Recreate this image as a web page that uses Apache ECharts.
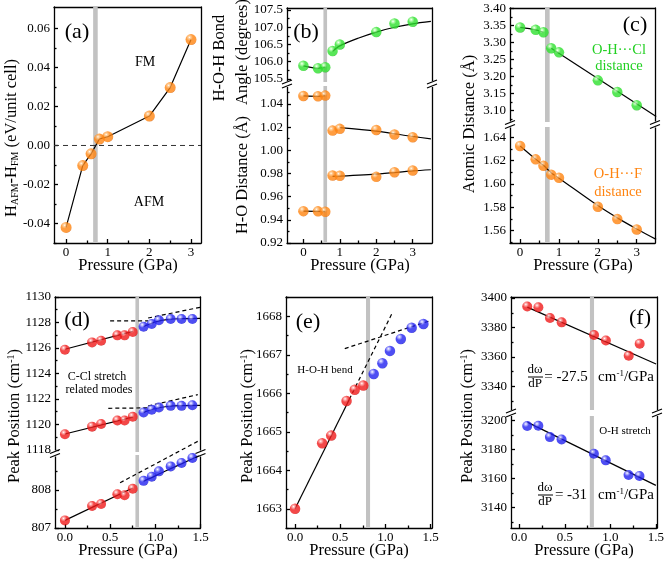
<!DOCTYPE html>
<html>
<head>
<meta charset="utf-8">
<script src="https://cdn.jsdelivr.net/npm/echarts@6/dist/echarts.min.js"></script>
<style>
  html, body { margin: 0; background: #fff; }
  #main { width: 667px; height: 564px; }
</style>
</head>
<body>
<div id="main"></div>
<script>
var FONT = 'Liberation Serif';

// ---- (a) energy difference
var aP = [0, 0.4, 0.6, 0.8, 1.0, 2.0, 2.5, 3.0];
var aE = [-0.042, -0.0103, -0.0043, 0.0033, 0.0045, 0.0151, 0.0297, 0.0543];
var aBand = [0.65, 0.76];

// ---- (b) angle and H-O distances
var bP = [0, 0.4, 0.6, 0.8, 1.0, 2.0, 2.5, 3.0];
var bAngle = [105.88, 105.81, 105.84, 106.31, 106.50, 106.86, 107.11, 107.16];
var bLong = [1.0469, 1.0466, 1.0472, 1.017, 1.0185, 1.0176, 1.0136, 1.0113];
var bShort = [0.9475, 0.9473, 0.947, 0.9783, 0.978, 0.9771, 0.9811, 0.9826];
var bAngleFitP = [0.8, 1.0, 1.5, 2.0, 2.5, 3.0, 3.5];
var bAngleFit = [106.30, 106.46, 106.68, 106.86, 107.0, 107.1, 107.17];
var bLongFitP = [1.0, 2.0, 3.0, 3.5];
var bLongFit = [1.0195, 1.0165, 1.012, 1.0099];
var bShortFitP = [0.8, 2.0, 3.0, 3.5];
var bShortFit = [0.9775, 0.9795, 0.9822, 0.9832];
var bBand = [0.55, 0.65];

// ---- (c) atomic distances
var cP = [0, 0.4, 0.6, 0.8, 1.0, 2.0, 2.5, 3.0];
var cCl = [3.344, 3.337, 3.330, 3.283, 3.271, 3.189, 3.155, 3.116];
var cF = [1.6326, 1.6211, 1.6157, 1.608, 1.6054, 1.5806, 1.570, 1.5611];
var cClFitP = [0.8, 3.5];
var cClFit = [3.283, 3.083];
var cFFitP = [0, 0.4, 0.6, 0.8, 1.0, 2.0, 2.5, 3.0, 3.5];
var cFFit = [1.6326, 1.6213, 1.616, 1.6095, 1.605, 1.5815, 1.571, 1.5615, 1.5526];
var cBand = [0.64, 0.76];

// ---- (d) C-Cl stretch modes
var dRedP = [0, 0.3, 0.4, 0.58, 0.66, 0.75];
var dBlueP = [0.87, 0.96, 1.04, 1.17, 1.29, 1.41];
var d1Red = [1125.86, 1126.44, 1126.57, 1126.99, 1126.99, 1127.25];
var d1Blue = [1127.67, 1127.88, 1128.17, 1128.27, 1128.27, 1128.27];
var d2Red = [1119.23, 1119.83, 1120.04, 1120.31, 1120.31, 1120.6];
var d2Blue = [1120.94, 1121.15, 1121.33, 1121.46, 1121.46, 1121.51];
var d3Red = [807.2, 807.58, 807.63, 807.89, 807.86, 808.03];
var d3Blue = [808.24, 808.35, 808.49, 808.62, 808.71, 808.84];
var dRedFitP = [0, 0.75];
var d1RedFit = [1125.9, 1127.3];
var d2RedFit = [1119.25, 1120.58];
var d3RedFit = [807.2, 808.05];
var dBlueFitP = [0.87, 1.0, 1.15, 1.3, 1.5];
var d1BlueFit = [1127.68, 1128.05, 1128.25, 1128.3, 1128.33];
var d2BlueFit = [1120.95, 1121.25, 1121.43, 1121.48, 1121.5];
var d3BlueFit = [808.23, 808.37, 808.54, 808.7, 808.92];
var d1DashAP = [0.5, 0.92], d1DashA = [1128.13, 1128.13];
var d1DashBP = [0.92, 1.5], d1DashB = [1128.35, 1129.2];
var d2DashAP = [0.48, 0.92], d2DashA = [1121.27, 1121.3];
var d2DashBP = [0.92, 1.47], d2DashB = [1121.45, 1122.34];
var d3DashP = [0.61, 1.47], d3Dash = [808.19, 809.28];
var dBand = [0.78, 0.82];

// ---- (e) H-O-H bend
var eRedP = [0, 0.3, 0.4, 0.57, 0.66, 0.755];
var eRed = [1663.0, 1664.7, 1664.9, 1665.8, 1666.09, 1666.2];
var eBlueP = [0.87, 0.966, 1.05, 1.17, 1.29, 1.42];
var eBlue = [1666.5, 1666.78, 1667.1, 1667.41, 1667.7, 1667.8];
var eSolidP = [0, 0.6], eSolid = [1663.0, 1665.84];
var eDash1P = [0.6, 1.07], eDash1 = [1665.84, 1668.06];
var eDash2P = [0.55, 1.5], eDash2 = [1667.16, 1667.89];
var eBand = [0.785, 0.83];

// ---- (f) O-H stretch
var fP = [0.088, 0.21, 0.337, 0.465, 0.82, 0.95, 1.2, 1.32];
var fRed = [3394.3, 3393.7, 3386.4, 3383.5, 3374.9, 3371.2, 3360.8, 3369.0];
var fBlue = [3196.1, 3196.3, 3188.5, 3186.9, 3177.1, 3172.5, 3162.4, 3161.8];
var fFitP = [0.088, 1.5];
var fRedFit = [3393.8, 3355.2];
var fBlueFit = [3198.8, 3155.3];
var fBand = [0.775, 0.82];

// ---- tick values
var xTicks3 = [0, 1, 2, 3], xMinor3 = [0.5, 1.5, 2.5];
var xTicks15 = [0, 0.5, 1.0, 1.5], xMinor15 = [0.25, 0.75, 1.25];
var aYT = [-0.04, -0.02, 0, 0.02, 0.04, 0.06], aYM = [-0.05, -0.03, -0.01, 0.01, 0.03, 0.05];
var bUpYT = [105.5, 106.0, 106.5, 107.0, 107.5], bUpYM = [105.75, 106.25, 106.75, 107.25];
var bLoYT = [0.92, 0.94, 0.96, 0.98, 1.00, 1.02, 1.04], bLoYM = [0.93, 0.95, 0.97, 0.99, 1.01, 1.03, 1.05];
var cUpYT = [3.10, 3.15, 3.20, 3.25, 3.30, 3.35, 3.40], cUpYM = [3.075, 3.125, 3.175, 3.225, 3.275, 3.325, 3.375];
var cLoYT = [1.56, 1.58, 1.60, 1.62, 1.64], cLoYM = [1.55, 1.57, 1.59, 1.61, 1.63];
var dUpYT = [1118, 1120, 1122, 1124, 1126, 1128, 1130], dUpYM = [1119, 1121, 1123, 1125, 1127, 1129];
var dLoYT = [807, 808], dLoYM = [807.5, 808.5];
var eYT = [1663, 1664, 1665, 1666, 1667, 1668], eYM = [1662.5, 1663.5, 1664.5, 1665.5, 1666.5, 1667.5, 1668.5];
var fUpYT = [3340, 3360, 3380, 3400], fUpYM = [3330, 3350, 3370, 3390];
var fLoYT = [3140, 3160, 3180, 3200], fLoYM = [3130, 3150, 3170, 3190];

var ORANGE = ['#ff8410', '#c04c00', '#ffc88a'];
var GREEN = ['#2ee02e', '#109010', '#b0ffa8'];
var RED = ['#f01a1a', '#980000', '#ffaaaa'];
var BLUE = ['#2222f0', '#08088f', '#b4b4ff'];

function zip(xs, ys) { return xs.map(function (x, i) { return [x, ys[i]]; }); }
function ball(c) {
  return { type: 'radial', x: 0.36, y: 0.3, r: 0.78, colorStops: [
    { offset: 0, color: '#ffffff' }, { offset: 0.12, color: c[2] },
    { offset: 0.4, color: c[0] }, { offset: 0.85, color: c[0] }, { offset: 1, color: c[1] }] };
}

var grids = [], xAxes = [], yAxes = [], series = [], breaks = [], xTitles = [];
var axLine = { color: '#000', width: 1.3 };
var tickFont = { color: '#000', fontFamily: FONT, fontSize: 13 };

function panel(box, xr, yr, o) {
  var gi = grids.length;
  grids.push({ left: box[0], top: box[1], width: box[2] - box[0], height: box[3] - box[1] });
  if (o.bottom) xTitles.push([Math.round((box[0] + box[2]) / 2), box[3] + 23]);
  var xi = xAxes.length, yi = yAxes.length;
  var common = { type: 'value', gridIndex: gi, splitLine: { show: false } };
  xAxes.push(Object.assign({}, common, {
    position: 'bottom', min: xr[0], max: xr[1],
    axisLine: { show: o.bottom, onZero: false, lineStyle: axLine },
    axisTick: { show: o.bottom, inside: true, length: 4, customValues: o.xT, lineStyle: axLine },
    axisLabel: Object.assign({ show: o.bottom, customValues: o.xT, margin: 3, formatter: o.xF }, tickFont)
  }));
  xAxes.push(Object.assign({}, common, {
    position: 'bottom', min: xr[0], max: xr[1],
    axisLine: { show: false, onZero: false },
    axisTick: { show: o.bottom, inside: true, length: 2.5, customValues: o.xM, lineStyle: axLine },
    axisLabel: { show: false }
  }));
  xAxes.push(Object.assign({}, common, {
    position: 'top', min: xr[0], max: xr[1],
    axisLine: { show: o.top, onZero: false, lineStyle: axLine },
    axisTick: { show: false }, axisLabel: { show: false }
  }));
  yAxes.push(Object.assign({}, common, {
    position: 'left', min: yr[0], max: yr[1],
    axisLine: { show: true, onZero: false, lineStyle: axLine },
    axisTick: { inside: true, length: 4, customValues: o.yT, lineStyle: axLine },
    axisLabel: Object.assign({ customValues: o.yT, margin: 4, formatter: o.yF }, tickFont)
  }));
  yAxes.push(Object.assign({}, common, {
    position: 'left', min: yr[0], max: yr[1],
    axisLine: { show: false, onZero: false },
    axisTick: { inside: true, length: 2.5, customValues: o.yM, lineStyle: axLine },
    axisLabel: { show: false }
  }));
  yAxes.push(Object.assign({}, common, {
    position: 'right', min: yr[0], max: yr[1],
    axisLine: { show: true, onZero: false, lineStyle: axLine },
    axisTick: { show: false }, axisLabel: { show: false }
  }));
  return { x: xi, y: yi };
}

function sc(ax, xs, ys, col, size) {
  series.push({ type: 'scatter', xAxisIndex: ax.x, yAxisIndex: ax.y, data: zip(xs, ys),
    symbolSize: size, itemStyle: { color: ball(col) }, z: 5, silent: true });
}
function ln(ax, xs, ys, dashed, noClip) {
  series.push({ type: 'line', xAxisIndex: ax.x, yAxisIndex: ax.y, data: zip(xs, ys),
    symbol: 'none', smooth: xs.length > 2 ? 0.3 : false, clip: !noClip, silent: true, z: 3,
    lineStyle: { color: '#000', width: 1.2, type: dashed ? [4, 3] : 'solid' } });
}
function band(ax, r) {
  series.push({ type: 'line', xAxisIndex: ax.x, yAxisIndex: ax.y, data: [], symbol: 'none', z: 1, silent: true,
    markArea: { silent: true, itemStyle: { color: '#c2c2c2' }, data: [[{ xAxis: r[0] }, { xAxis: r[1] }]] } });
}

var f0 = function (v) { return v.toFixed(0); };
var f1 = function (v) { return v.toFixed(1); };
var f2 = function (v) { return v.toFixed(2); };

// (a)
var A = panel([54, 7, 201, 243], [-0.29, 3.24], [-0.05, 0.071],
  { bottom: true, top: true, xT: xTicks3, xM: xMinor3, xF: f0, yT: aYT, yM: aYM, yF: f2 });
band(A, aBand);
series.push({ type: 'line', xAxisIndex: A.x, yAxisIndex: A.y, data: [[-0.29, 0], [3.24, 0]], symbol: 'none', silent: true, z: 2,
  lineStyle: { color: '#333', width: 1, type: [5, 4] } });
ln(A, aP, aE, false);
series[series.length - 1].smooth = false;
sc(A, aP, aE, ORANGE, 11);

// (b)
var Bu = panel([287, 8, 432, 82], [-0.45, 3.53], [105.41, 107.56],
  { bottom: false, top: true, xT: xTicks3, xM: xMinor3, xF: f0, yT: bUpYT, yM: bUpYM, yF: f1 });
var Bl = panel([287, 86, 432, 243], [-0.45, 3.53], [0.92, 1.0555],
  { bottom: true, top: false, xT: xTicks3, xM: xMinor3, xF: f0, yT: bLoYT, yM: bLoYM, yF: f2 });
breaks.push([287, 432, 84]);
band(Bu, bBand); band(Bl, bBand);
ln(Bu, bP.slice(0, 3), bAngle.slice(0, 3)); ln(Bu, bAngleFitP, bAngleFit);
ln(Bl, bP.slice(0, 3), bLong.slice(0, 3)); ln(Bl, bLongFitP, bLongFit);
ln(Bl, bP.slice(0, 3), bShort.slice(0, 3)); ln(Bl, bShortFitP, bShortFit);
sc(Bu, bP, bAngle, GREEN, 10.5);
sc(Bl, bP, bLong, ORANGE, 10.5);
sc(Bl, bP, bShort, ORANGE, 10.5);

// (c)
var Cu = panel([510, 8, 655, 122], [-0.26, 3.47], [3.067, 3.401],
  { bottom: false, top: true, xT: xTicks3, xM: xMinor3, xF: f0, yT: cUpYT, yM: cUpYM, yF: f2 });
var Cl = panel([510, 127, 655, 243], [-0.26, 3.47], [1.5495, 1.6488],
  { bottom: true, top: false, xT: xTicks3, xM: xMinor3, xF: f0, yT: cLoYT, yM: cLoYM, yF: f2 });
breaks.push([510, 655, 124.5]);
band(Cu, cBand); band(Cl, cBand);
ln(Cu, cP.slice(0, 3), cCl.slice(0, 3)); ln(Cu, cClFitP, cClFit);
ln(Cl, cFFitP, cFFit);
sc(Cu, cP, cCl, GREEN, 10.5);
sc(Cl, cP, cF, ORANGE, 10.5);

// (d)
var Du = panel([55, 297, 200.5, 452], [-0.11, 1.5], [1117.84, 1130],
  { bottom: false, top: true, xT: xTicks15, xM: xMinor15, xF: f1, yT: dUpYT, yM: dUpYM, yF: f0 });
var Dl = panel([55, 455, 200.5, 528], [-0.11, 1.5], [807, 808.92],
  { bottom: true, top: false, xT: xTicks15, xM: xMinor15, xF: f1, yT: dLoYT, yM: dLoYM, yF: f0 });
breaks.push([55, 200.5, 453.5]);
band(Du, dBand); band(Dl, dBand);
ln(Du, dRedFitP, d1RedFit); ln(Du, dBlueFitP, d1BlueFit);
ln(Du, dRedFitP, d2RedFit); ln(Du, dBlueFitP, d2BlueFit);
ln(Dl, dRedFitP, d3RedFit); ln(Dl, dBlueFitP, d3BlueFit);
ln(Du, d1DashAP, d1DashA, true); ln(Du, d1DashBP, d1DashB, true);
ln(Du, d2DashAP, d2DashA, true); ln(Du, d2DashBP, d2DashB, true);
ln(Dl, d3DashP, d3Dash, true, true);
sc(Du, dRedP, d1Red, RED, 10); sc(Du, dBlueP, d1Blue, BLUE, 10);
sc(Du, dRedP, d2Red, RED, 10); sc(Du, dBlueP, d2Blue, BLUE, 10);
sc(Dl, dRedP, d3Red, RED, 10); sc(Dl, dBlueP, d3Blue, BLUE, 10);

// (e)
var E = panel([286, 297, 432, 528], [-0.1, 1.515], [1662.5, 1668.5],
  { bottom: true, top: true, xT: xTicks15, xM: xMinor15, xF: f1, yT: eYT, yM: eYM, yF: f0 });
band(E, eBand);
ln(E, eSolidP, eSolid); ln(E, eDash1P, eDash1, true); ln(E, eDash2P, eDash2, true);
sc(E, eRedP, eRed, RED, 10.5); sc(E, eBlueP, eBlue, BLUE, 10.5);

// (f)
var Fu = panel([511, 297, 657, 410], [-0.09, 1.51], [3324, 3400.7],
  { bottom: false, top: true, xT: xTicks15, xM: xMinor15, xF: f1, yT: fUpYT, yM: fUpYM, yF: f0 });
var Fl = panel([511, 416, 657, 528], [-0.09, 1.51], [3126, 3203],
  { bottom: true, top: false, xT: xTicks15, xM: xMinor15, xF: f1, yT: fLoYT, yM: fLoYM, yF: f0 });
breaks.push([511, 657, 413]);
band(Fu, fBand); band(Fl, fBand);
ln(Fu, fFitP, fRedFit); ln(Fl, fFitP, fBlueFit);
sc(Fu, fP, fRed, RED, 10); sc(Fl, fP, fBlue, BLUE, 10);

// ---- text and decorations
var graphics = [];
function txt(x, y, s, size, color) {
  graphics.push({ type: 'text', x: x, y: y, z: 50, silent: true,
    style: { text: s, fill: color || '#000', fontFamily: FONT, fontSize: size, fontWeight: 'normal',
      textAlign: 'center', textVerticalAlign: 'middle' } });
}
function vtxt(x, y, s, size, rich) {
  graphics.push({ type: 'text', x: x, y: y, rotation: Math.PI / 2, z: 50, silent: true,
    style: { text: s, fill: '#000', fontFamily: FONT, fontSize: size, fontWeight: 'normal',
      textAlign: 'center', textVerticalAlign: 'middle', rich: rich } });
}
var subRich = {
  n: { fontSize: 16.5, fontFamily: FONT, fill: '#000' },
  s: { fontSize: 10, fontFamily: FONT, fill: '#000', verticalAlign: 'bottom', padding: [6, 0, 0, 0] },
  p: { fontSize: 10, fontFamily: FONT, fill: '#000', verticalAlign: 'top', padding: [0, 0, 6, 0] }
};

xTitles.forEach(function (t) { txt(t[0], t[1], 'Pressure (GPa)', 16.5); });

txt(77, 32, '(a)', 22); txt(145, 62, 'FM', 14); txt(149, 202, 'AFM', 14);
txt(306, 32, '(b)', 22);
txt(635, 25, '(c)', 22);
txt(619, 50, 'O-H\u00b7\u00b7\u00b7Cl', 14.5, '#22d022'); txt(619, 66, 'distance', 14.5, '#22d022');
txt(618, 174, 'O-H\u00b7\u00b7\u00b7F', 14.5, '#ff8410'); txt(618, 192, 'distance', 14.5, '#ff8410');
txt(77, 320, '(d)', 22); txt(97, 377, 'C-Cl stretch', 12); txt(99, 390, 'related modes', 12);
txt(308, 322, '(e)', 22); txt(325, 370, 'H-O-H bend', 11);
txt(640, 318, '(f)', 22); txt(625, 431, 'O-H stretch', 11);

txt(535, 370, 'd\u03c9', 13); txt(535, 383.5, 'dP', 13);
graphics.push({ type: 'line', z: 50, silent: true, shape: { x1: 528, y1: 377, x2: 543, y2: 377 }, style: { stroke: '#000', lineWidth: 1 } });
txt(566, 377, '= -27.5', 15);
txt(626, 377, '{n|cm}{p|-1}{n|/GPa}', 15);
txt(545, 488, 'd\u03c9', 13); txt(545, 502, 'dP', 13);
graphics.push({ type: 'line', z: 50, silent: true, shape: { x1: 538, y1: 495, x2: 553, y2: 495 }, style: { stroke: '#000', lineWidth: 1 } });
txt(571, 495, '= -31', 15);
txt(626, 495, '{n|cm}{p|-1}{n|/GPa}', 15);

var unitRich = {
  n: { fontSize: 15, fontFamily: FONT, fill: '#000' },
  p: { fontSize: 9, fontFamily: FONT, fill: '#000', verticalAlign: 'top', padding: [0, 0, 5, 0] }
};
graphics.forEach(function (g) { if (g.style && /\{n\|/.test(g.style.text)) g.style.rich = unitRich; });

vtxt(12, 138, '{n|H}{s|AFM}{n|-H}{s|FM}{n| (eV/unit cell)}', 16.5, subRich);
vtxt(220, 58, 'H-O-H Bond', 16.5);
vtxt(243, 52, 'Angle (degrees)', 16.5);
vtxt(243, 175, 'H-O Distance (\u00c5)', 16.5);
vtxt(470, 124, 'Atomic Distance (\u00c5)', 16.5);
vtxt(15, 416, '{n|Peak Position (cm}{p|-1}{n|)}', 16.5, subRich);
vtxt(248, 416, '{n|Peak Position (cm}{p|-1}{n|)}', 16.5, subRich);
vtxt(468, 416, '{n|Peak Position (cm}{p|-1}{n|)}', 16.5, subRich);

// axis break marks
breaks.forEach(function (b) {
  [b[0], b[1]].forEach(function (x) {
    graphics.push({ type: 'rect', z: 48, silent: true, shape: { x: x - 2, y: b[2] - 3, width: 4, height: 6 }, style: { fill: '#fff' } });
    [-2, 2].forEach(function (d) {
      graphics.push({ type: 'line', z: 49, silent: true,
        shape: { x1: x - 5, y1: b[2] + d + 2, x2: x + 5, y2: b[2] + d - 2 }, style: { stroke: '#000', lineWidth: 1.2 } });
    });
  });
});

var chart = echarts.init(document.getElementById('main'), null, { renderer: 'canvas' });
chart.setOption({
  animation: false,
  backgroundColor: '#fff',
  grid: grids,
  xAxis: xAxes,
  yAxis: yAxes,
  series: series,
  graphic: { elements: graphics }
});
</script>
</body>
</html>
